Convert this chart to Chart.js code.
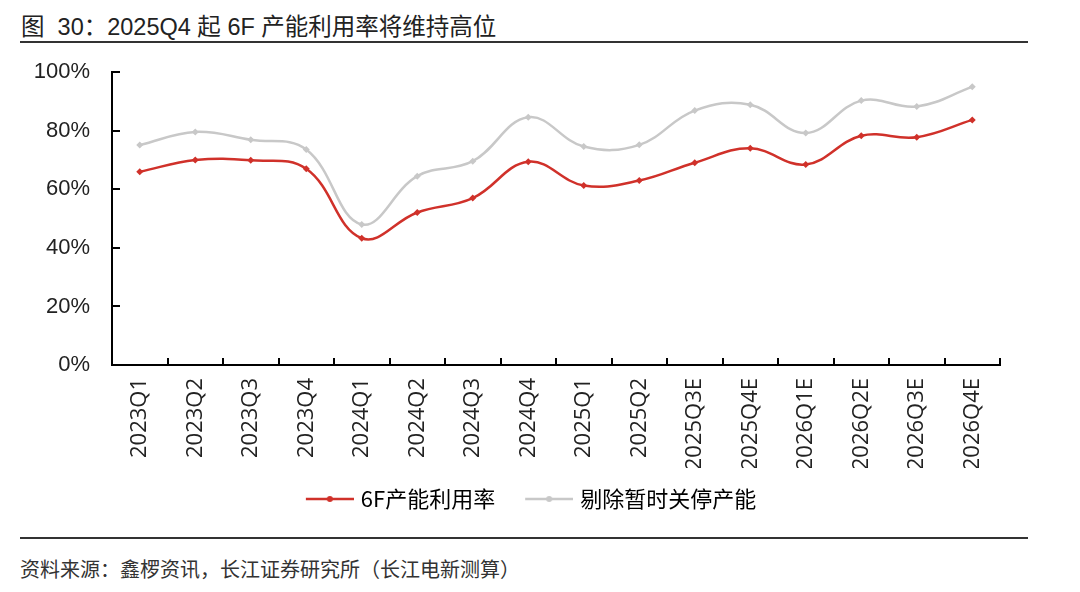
<!DOCTYPE html>
<html>
<head>
<meta charset="utf-8">
<script src="https://cdn.jsdelivr.net/npm/chart.js@4.4.1/dist/chart.umd.min.js"></script>
<style>
  html, body { margin: 0; padding: 0; background: #fff; }
  body { width: 1080px; height: 592px; position: relative; overflow: hidden;
         font-family: "Liberation Sans", "Noto Sans CJK SC", sans-serif; color: #222; }
  #title { position: absolute; left: 21px; top: 14px; font-size: 23.5px; line-height: 26px; white-space: pre; }
  .rule { position: absolute; left: 20px; width: 1008px; height: 2px; background: #333; }
  #footer { position: absolute; left: 20px; top: 556px; font-size: 20px; line-height: 26px; white-space: nowrap;
            font-family: "Noto Sans CJK SC", sans-serif; color: #333; }
  #wrap { position: absolute; left: 0; top: 37px; width: 1080px; height: 493px; }
</style>
</head>
<body>
<div id="title">图  30：2025Q4 起 6F 产能利用率将维持高位</div>
<div class="rule" style="top:41px"></div>
<div id="wrap"><canvas id="chart"></canvas></div>
<div class="rule" style="top:537px"></div>
<div id="footer">资料来源：鑫椤资讯，长江证券研究所（长江电新测算）</div>
<script>
// 数据（读图估计，单位 %）
const quarters = ['2023Q1', '2023Q2', '2023Q3', '2023Q4', '2024Q1', '2024Q2', '2024Q3', '2024Q4',
  '2025Q1', '2025Q2', '2025Q3E', '2025Q4E', '2026Q1E', '2026Q2E', '2026Q3E', '2026Q4E'];
const utilization = [66.0, 70.0, 69.9, 67.0, 43.3, 52.1, 57.0, 69.4, 61.3, 63.0, 69.1, 74.0, 68.5, 78.3, 77.8, 83.7];
const excludingIdle = [75.1, 79.6, 76.9, 73.6, 48.0, 64.5, 69.6, 84.6, 74.6, 75.2, 86.9, 88.9, 79.2, 90.3, 88.3, 95.0];
const yTicks = [0, 20, 40, 60, 80, 100];

const RED = '#D0312A';
const GREY = '#C8C8C8';

// 图例里的“线 + 点”样式（左侧留白用来拉开两项的距离）
const SYM_W = 62;
function legendSymbol(color) {
  const c = document.createElement('canvas');
  c.width = SYM_W; c.height = 10;
  const g = c.getContext('2d');
  g.strokeStyle = color; g.lineWidth = 2.5;
  g.beginPath(); g.moveTo(14, 5); g.lineTo(SYM_W, 5); g.stroke();
  g.fillStyle = color;
  g.beginPath(); g.arc(14 + (SYM_W - 14) / 2, 5, 3, 0, Math.PI * 2); g.fill();
  return c;
}

// 坐标轴向内的小刻度
const innerTicks = {
  id: 'innerTicks',
  afterDraw(chart) {
    const { ctx, scales: { x, y } } = chart;
    ctx.save();
    ctx.strokeStyle = '#000';
    ctx.lineWidth = 2;
    ctx.beginPath();
    for (let i = 0; i <= quarters.length; i++) {
      const px = Math.round(x.getPixelForValue(i - 0.5));
      ctx.moveTo(px, y.bottom); ctx.lineTo(px, y.bottom - 7);
    }
    y.ticks.forEach(t => {
      const py = Math.round(y.getPixelForValue(t.value));
      ctx.moveTo(x.left, py); ctx.lineTo(x.left + 8, py);
    });
    ctx.stroke();
    ctx.restore();
  }
};

const ctx = document.getElementById('chart').getContext('2d');
new Chart(ctx, {
  type: 'line',
  data: {
    labels: quarters,
    datasets: [
      {
        label: '6F产能利用率',
        data: utilization,
        borderColor: RED,
        backgroundColor: RED,
        borderWidth: 2.5,
        pointStyle: 'rectRot',
        pointRadius: 3.5,
        pointBorderWidth: 0,
        tension: 0.4,
        order: 1
      },
      {
        label: '剔除暂时关停产能',
        data: excludingIdle,
        borderColor: GREY,
        backgroundColor: GREY,
        borderWidth: 2.5,
        pointStyle: 'rectRot',
        pointRadius: 3.5,
        pointBorderWidth: 0,
        tension: 0.4,
        order: 2
      }
    ]
  },
  options: {
    responsive: true,
    maintainAspectRatio: false,
    animation: false,
    layout: { padding: { top: 8, right: 28, left: 0, bottom: 10 } },
    plugins: {
      tooltip: { enabled: false },
      legend: {
        position: 'bottom',
        labels: {
          usePointStyle: true,
          pointStyleWidth: SYM_W - 8,
          padding: 20,
          color: '#222',
          font: { size: 22, family: '"Noto Sans CJK SC", sans-serif' },
          generateLabels(chart) {
            return chart.data.datasets.map((ds, i) => ({
              text: ds.label,
              fillStyle: ds.borderColor,
              strokeStyle: ds.borderColor,
              pointStyle: legendSymbol(ds.borderColor),
              datasetIndex: i,
              hidden: false,
              lineWidth: 0
            }));
          }
        }
      }
    },
    scales: {
      x: {
        offset: true,
        grid: { display: false, drawTicks: false },
        border: { display: true, color: '#000', width: 2 },
        ticks: {
          maxRotation: 90,
          minRotation: 90,
          padding: 13,
          color: '#222',
          font: { size: 22, family: '"Open Sans", "Liberation Sans", sans-serif' }
        },
        afterFit(scale) { scale.height = 103; }
      },
      y: {
        min: 0,
        max: 100,
        afterBuildTicks(scale) { scale.ticks = yTicks.map(v => ({ value: v })); },
        grid: { display: false, drawTicks: false },
        border: { display: true, color: '#000', width: 2 },
        ticks: {
          padding: 22,
          color: '#222',
          font: { size: 22, family: '"Liberation Sans", sans-serif' },
          callback: v => v + '%'
        },
        afterFit(scale) { scale.width = 112; }
      },
      // 右侧空白轴，只占位，让图例居中位置与原图一致
      yRight: {
        position: 'right',
        min: 0,
        max: 100,
        grid: { display: false, drawTicks: false },
        border: { display: false },
        ticks: { display: false },
        afterFit(scale) { scale.width = 52; }
      }
    }
  },
  plugins: [innerTicks]
});
</script>
</body>
</html>
